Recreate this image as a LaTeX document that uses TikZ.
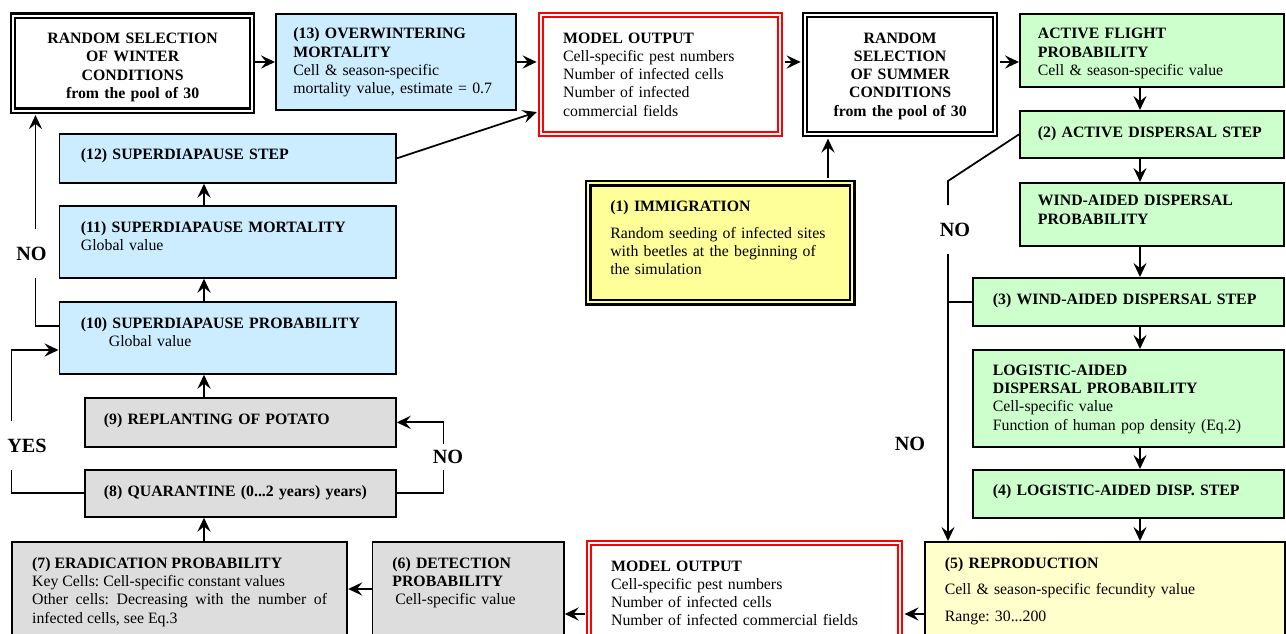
\documentclass[tikz,border=0pt]{standalone}
\usepackage{fontspec}
\setmainfont{Liberation Serif}
\usetikzlibrary{arrows.meta,positioning}
\definecolor{boxblue}{HTML}{CCECFF}
\definecolor{boxgreen}{HTML}{CCFFCC}
\definecolor{boxgrey}{HTML}{DDDDDD}
\definecolor{boxyellow}{HTML}{FFFF99}
\definecolor{boxcream}{HTML}{FFFFCC}
\frenchspacing
\tikzset{
  box/.style={draw, line width=1pt, anchor=north west, inner sep=0pt, align=left,
    font=\fontsize{9}{10.4}\selectfont},
  sz/.style n args={4}{minimum width=#1cm, text width=#2cm, text height=#3cm, text depth=#4cm},
  dblack/.style={box, fill=white, line width=1.3pt, double=white, double distance=1.2pt},
  dred/.style={dblack, draw=red},
  lab/.style={font=\fontsize{11.5}{12}\selectfont\bfseries, inner sep=0pt},
  arr/.style={line width=1pt, -{Stealth[length=8pt,width=7.5pt,inset=3pt]}},
}

\begin{document}
\begin{tikzpicture}[x=0.02cm, y=-0.02cm, line width=1pt]
  \useasboundingbox (0,0) rectangle (1286,634);

  % top row
  \node[dblack, sz={4.78}{4.4}{0.56}{1.34}, align=center] (winter) at (12,14.5)
    {\bfseries RANDOM SELECTION\\OF WINTER\\CONDITIONS\\from the pool of 30};
  \node[box, fill=boxblue, sz={4.8}{4.1}{0.50}{1.42}] (overw) at (275,13)
    {{\bfseries (13) OVERWINTERING\\MORTALITY}\\Cell \& season-specific\\mortality value, estimate = 0.7};
  \node[dred, sz={4.78}{3.9}{0.56}{1.82}] (outtop) at (540,14)
    {{\bfseries MODEL OUTPUT}\\Cell-specific pest numbers\\Number of infected cells\\Number of infected\\commercial fields};
  \node[dblack, sz={3.8}{3.6}{0.56}{1.82}, align=center] (summer) at (804,14)
    {\bfseries RANDOM\\SELECTION\\OF SUMMER\\CONDITIONS\\from the pool of 30};
  \node[box, fill=boxgreen, sz={5.28}{4.56}{0.50}{0.96}] (flight) at (1019,13)
    {{\bfseries ACTIVE FLIGHT\\PROBABILITY}\\Cell \& season-specific value};

  % right column
  \node[box, fill=boxgreen, sz={5.28}{4.56}{0.53}{0.41}] (actd) at (1019,110)
    {\bfseries (2) ACTIVE DISPERSAL STEP};
  \node[box, fill=boxgreen, sz={5.28}{4.56}{0.46}{0.80}] (windp) at (1019,182)
    {\bfseries WIND-AIDED DISPERSAL\\PROBABILITY};
  \node[box, fill=boxgreen, sz={6.22}{5.42}{0.53}{0.43}] (winds) at (972,277)
    {\bfseries (3) WIND-AIDED DISPERSAL STEP};
  \node[box, fill=boxgreen, sz={6.22}{5.42}{0.51}{1.43}] (logp) at (972,349)
    {{\bfseries LOGISTIC-AIDED\\DISPERSAL PROBABILITY}\\Cell-specific value\\Function of human pop density (Eq.2)};
  \node[box, fill=boxgreen, sz={6.22}{5.42}{0.51}{0.45}] (logs) at (972,469)
    {\bfseries (4) LOGISTIC-AIDED DISP. STEP};

  % bottom row
  \node[box, fill=boxcream, sz={7.2}{6.4}{0.53}{1.47}] (repro) at (924,541)
    {{\bfseries (5) REPRODUCTION}\\[4.6pt]Cell \& season-specific fecundity value\\[4.6pt]Range: 30...200};
  \node[dred, sz={6.22}{5.34}{0.56}{1.44}] (outbot) at (588,542)
    {{\bfseries MODEL OUTPUT}\\Cell-specific pest numbers\\Number of infected cells\\Number of infected commercial fields};
  \node[box, fill=boxgrey, sz={3.83}{3.03}{0.53}{1.47}] (detect) at (371.5,541)
    {{\bfseries (6) DETECTION\\PROBABILITY}\\\hspace*{0.06cm}Cell-specific value};
  \node[box, fill=boxgrey, sz={6.71}{5.9}{0.53}{1.47}, align=justify] (eradic) at (11,541)
    {{\bfseries (7) ERADICATION PROBABILITY}\\Key Cells: Cell-specific constant values\\Other cells: Decreasing with the number of\linebreak infected cells, see Eq.3};

  % left column
  \node[box, fill=boxgrey, sz={6.22}{5.46}{0.54}{0.40}] (quar) at (84,469)
    {\bfseries (8) QUARANTINE (0...2 years) years)};
  \node[box, fill=boxgrey, sz={6.22}{5.46}{0.53}{0.45}] (replant) at (84,397)
    {\bfseries (9) REPLANTING OF POTATO};
  \node[box, fill=boxblue, sz={6.73}{5.87}{0.53}{0.91}] (sdprob) at (58.5,301)
    {{\bfseries (10) SUPERDIAPAUSE PROBABILITY}\\\hspace*{0.56cm}Global value};
  \node[box, fill=boxblue, sz={6.73}{5.87}{0.53}{0.91}] (sdmort) at (58.5,205)
    {{\bfseries (11) SUPERDIAPAUSE MORTALITY}\\Global value};
  \node[box, fill=boxblue, sz={6.73}{5.87}{0.51}{0.47}] (sdstep) at (58.5,133)
    {\bfseries (12) SUPERDIAPAUSE STEP};

  % centre
  \node[box, fill=boxyellow, line width=1.5pt, double=boxyellow, double distance=1pt,
        sz={5.28}{4.4}{0.56}{1.82}] (immig) at (587,182)
    {{\bfseries (1) IMMIGRATION}\\[4.8pt]Random seeding of infected sites\\with beetles at the beginning of\\the simulation};

  % branch labels
  \node[lab, minimum height=0.94cm] (no1) at (955,229.5) {NO};
  \node[lab] (no2) at (910,444) {NO};
  \node[lab, minimum height=0.48cm] (no3) at (448,457) {NO};
  \node[lab, minimum height=0.94cm] (yes) at (27,445.5) {YES};
  \node[lab, minimum height=0.94cm] (no4) at (31.5,253.5) {NO};

  % connector levels
  \coordinate (xr) at (1140,0);
  \coordinate (xn) at (948,0);
  \coordinate (xi) at (828,0);
  \coordinate (xl) at (204,0);
  \coordinate (xq) at (443.5,0);
  \coordinate (xy) at (11.5,0);
  \coordinate (xw) at (35.5,0);
  \coordinate (ytop) at (0,62);
  \coordinate (yout) at (0,111);
  \coordinate (ybot) at (0,614);
  \coordinate (ydet) at (0,589);
  \coordinate (yyes) at (0,350);
  \coordinate (ysd) at (0,326);
  \coordinate (bend) at (948,181);

  \draw[arr] (winter.east |- ytop) -- (overw.west |- ytop);
  \draw[arr, shorten >=1.9pt] (overw.east |- ytop) -- (outtop.west |- ytop);
  \draw[arr, shorten >=1.9pt] (sdstep.east) -- (outtop.west |- yout);
  \draw[arr, shorten <=1.9pt, shorten >=1.9pt] (outtop.east |- ytop) -- (summer.west |- ytop);
  \draw[arr, shorten <=1.9pt] (summer.east |- ytop) -- (flight.west |- ytop);
  \draw[arr, shorten <=2pt, shorten >=1.9pt] (immig.north -| xi) -- (summer.south -| xi);

  \foreach \a/\b in {flight/actd, actd/windp, windp/winds, winds/logp, logp/logs, logs/repro}
    \draw[arr] (\a.south -| xr) -- (\b.north -| xr);

  \draw (actd.west) -- (bend) -- (no1.north -| xn);
  \draw[arr] (no1.south -| xn) -- (repro.north -| xn);
  \draw (xn |- winds.west) -- (winds.west);

  \draw[arr, shorten >=1.9pt] (repro.west |- ybot) -- (outbot.east |- ybot);
  \draw[arr, shorten <=1.9pt] (outbot.west |- ybot) -- (detect.east |- ybot);
  \draw[arr] (detect.west |- ydet) -- (eradic.east |- ydet);

  \foreach \a/\b in {eradic/quar, replant/sdprob, sdprob/sdmort, sdmort/sdstep}
    \draw[arr] (\a.north -| xl) -- (\b.south -| xl);

  \draw (quar.east) -- (quar.east -| xq) -- (no3.south -| xq);
  \draw[arr] (no3.north -| xq) -- (xq |- replant.east) -- (replant.east);
  \draw (quar.west) -- (quar.west -| xy) -- (yes.south -| xy);
  \draw[arr] (yes.north -| xy) -- (xy |- yyes) -- (sdprob.west |- yyes);
  \draw (sdprob.west |- ysd) -- (xw |- ysd) -- (no4.south -| xw);
  \draw[arr, shorten >=1.9pt] (no4.north -| xw) -- (winter.south -| xw);
\end{tikzpicture}
\end{document}
